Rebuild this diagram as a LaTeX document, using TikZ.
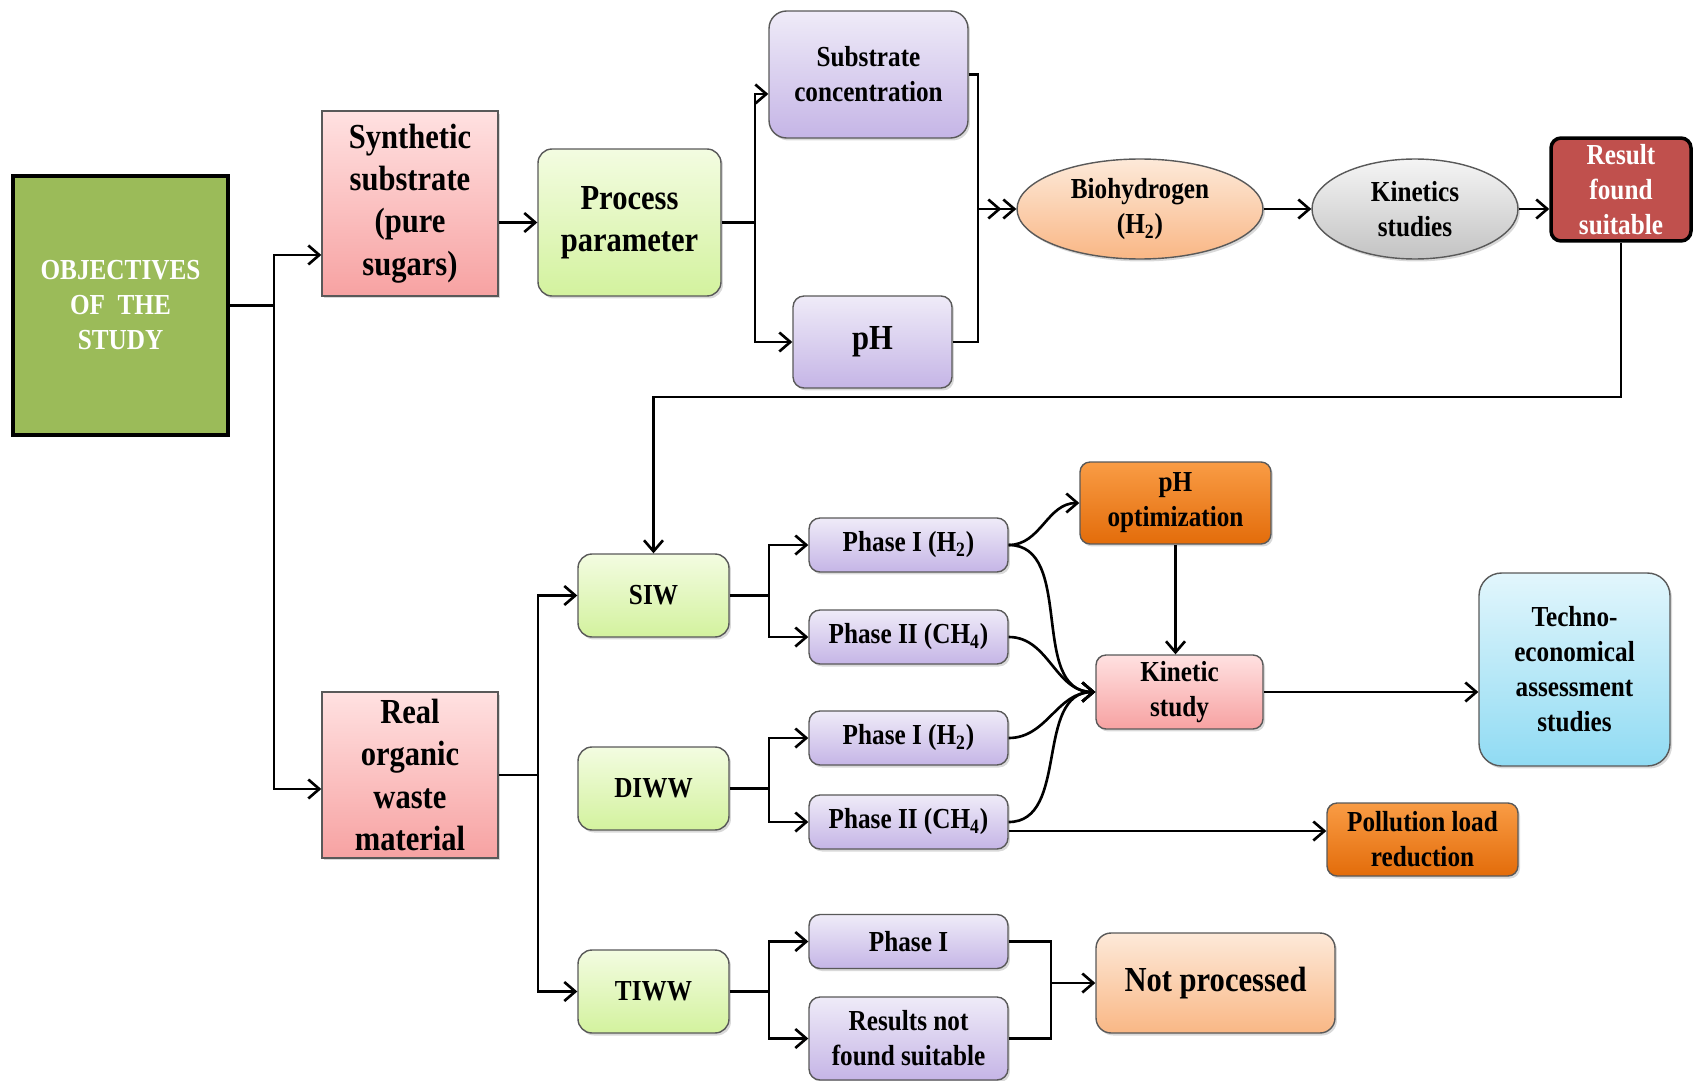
\documentclass[tikz,border=0pt]{standalone}
\usepackage{fontspec}
\setmainfont{Liberation Serif}[FakeStretch=0.87]
\usetikzlibrary{arrows.meta,shapes.geometric,shadows}

\definecolor{verdeobj}{HTML}{9BBB59}
\definecolor{rosaA}{HTML}{FFE1E1}
\definecolor{rosaB}{HTML}{F7A2A2}
\definecolor{verdeA}{HTML}{F3FCE1}
\definecolor{verdeB}{HTML}{D3F29E}
\definecolor{lilaA}{HTML}{EFEBF8}
\definecolor{lilaB}{HTML}{C5B5E6}
\definecolor{duraznoA}{HTML}{FDE9D9}
\definecolor{duraznoB}{HTML}{F9B785}
\definecolor{grisA}{HTML}{F5F5F5}
\definecolor{grisB}{HTML}{C3C3C3}
\definecolor{rojo}{HTML}{C0504D}
\definecolor{naranjaA}{HTML}{F99C45}
\definecolor{naranjaB}{HTML}{E36C0A}
\definecolor{celesteA}{HTML}{E2F6FC}
\definecolor{celesteB}{HTML}{90DBF3}

\newcommand{\chico}{\bfseries\fontsize{16.5}{19.9}\selectfont}
\newcommand{\grande}{\bfseries\fontsize{20}{24}\selectfont}

\tikzset{
  caja/.style={draw=black!65, line width=0.8pt, align=center, font=\chico, inner sep=1pt,
    drop shadow={opacity=0.3, shadow xshift=0.04cm, shadow yshift=-0.05cm}},
  grande/.style={font=\grande},
  rosa/.style={caja, top color=rosaA, bottom color=rosaB},
  verde/.style={caja, rounded corners=0.28cm, top color=verdeA, bottom color=verdeB},
  lila/.style={caja, rounded corners=0.22cm, top color=lilaA, bottom color=lilaB},
  durazno/.style={caja, top color=duraznoA, bottom color=duraznoB},
  naranja/.style={caja, rounded corners=0.2cm, top color=naranjaA, bottom color=naranjaB},
}

\begin{document}
\begin{tikzpicture}[x=0.02cm, y=-0.02cm, line width=1.5pt, >={Straight Barb[length=0.22cm,width=0.38cm]}]
  \useasboundingbox (0,0) rectangle (1693,1081);

  % cajas de arriba
  \node[draw=black, line width=2.4pt, fill=verdeobj, text=white, align=center, font=\chico,
    minimum width=4.3cm, minimum height=5.18cm] (obj) at (120.5,305.5) {OBJECTIVES\\OF\ \ THE\\STUDY};
  \node[rosa, grande, minimum width=3.52cm, minimum height=3.7cm] (sint) at (410,203.5) {Synthetic\\substrate\\(pure\\sugars)};
  \node[verde, grande, minimum width=3.66cm, minimum height=2.94cm] (proc) at (629.5,222.5) {Process\\parameter};
  \node[lila, rounded corners=0.35cm, minimum width=3.98cm, minimum height=2.54cm] (subs) at (868.5,74.5) {Substrate\\concentration};
  \node[lila, grande, minimum width=3.18cm, minimum height=1.84cm] (ph) at (872.5,342) {pH};
  \node[durazno, ellipse, minimum width=4.92cm, minimum height=2cm] (bio) at (1140,209) {Biohydrogen\\(H\textsubscript{2})};
  \node[caja, ellipse, top color=grisA, bottom color=grisB, minimum width=4.12cm, minimum height=2cm] (kin) at (1415,209) {Kinetics\\studies};
  \node[draw=black, line width=2pt, rounded corners=0.2cm, fill=rojo, text=white, align=center, font=\chico,
    inner sep=0pt, minimum width=2.8cm, minimum height=2.06cm] (res) at (1621,189.5) {Result\\found\\suitable};

  % cajas de abajo
  \node[rosa, grande, minimum width=3.52cm, minimum height=3.32cm] (real) at (410,775) {Real\\organic\\waste\\material};
  \node[verde, minimum width=3.02cm, minimum height=1.66cm] (siw) at (653.5,595.5) {SIW};
  \node[verde, minimum width=3.02cm, minimum height=1.66cm] (diww) at (653.5,788.5) {DIWW};
  \node[verde, minimum width=3.02cm, minimum height=1.66cm] (tiww) at (653.5,991.5) {TIWW};
  \node[lila, minimum width=3.98cm, minimum height=1.08cm] (p1a) at (908.5,545) {Phase I (H\textsubscript{2})};
  \node[lila, minimum width=3.98cm, minimum height=1.08cm] (p2a) at (908.5,637) {Phase II (CH\textsubscript{4})};
  \node[lila, minimum width=3.98cm, minimum height=1.08cm] (p1b) at (908.5,738) {Phase I (H\textsubscript{2})};
  \node[lila, minimum width=3.98cm, minimum height=1.08cm] (p2b) at (908.5,822) {Phase II (CH\textsubscript{4})};
  \node[lila, minimum width=3.98cm, minimum height=1.08cm] (p1c) at (908.5,941.5) {Phase I};
  \node[lila, minimum width=3.98cm, minimum height=1.66cm] (rnf) at (908.5,1038.5) {Results not\\found suitable};
  \node[naranja, minimum width=3.82cm, minimum height=1.64cm] (phopt) at (1175.5,503) {pH\\optimization};
  \node[rosa, rounded corners=0.2cm, minimum width=3.34cm, minimum height=1.48cm] (kstudy) at (1179.5,692) {Kinetic\\study};
  \node[caja, rounded corners=0.45cm, top color=celesteA, bottom color=celesteB,
    minimum width=3.82cm, minimum height=3.86cm] (techno) at (1574.5,669.5) {Techno-\\economical\\assessment\\studies};
  \node[naranja, minimum width=3.82cm, minimum height=1.46cm] (poll) at (1422.5,839.5) {Pollution load\\reduction};
  \node[durazno, grande, rounded corners=0.3cm, minimum width=4.78cm, minimum height=2cm] (noproc) at (1215.5,983) {Not processed};

  % puntos de bifurcacion
  \coordinate (ob) at (274,305.5);
  \coordinate (pb) at (755,222.5);
  \coordinate (bb) at (978,209);
  \coordinate (fb) at (653.5,397);
  \coordinate (rb) at (538,775);
  \coordinate (sb) at (769,595.5);
  \coordinate (db) at (769,788.5);
  \coordinate (tb) at (769,991.5);
  \coordinate (nb) at (1051,983);

  % flechas de arriba
  \draw (obj.east) -- (ob);
  \draw[->] (ob) |- ([yshift=-1.03cm]sint.west);
  \draw[->] (ob) |- ([yshift=-0.28cm]real.west);
  \draw[->] (sint.east |- proc.west) -- (proc.west);
  \draw (proc.east) -- (pb);
  \draw[->] (pb) |- ([yshift=-0.39cm]subs.west);
  \draw[->] (pb) |- (ph.west);
  \draw[->, shorten >=0.3cm] (subs.east) -| (bb) -- (bio.west);
  \draw[->] (ph.east) -| (bb) -- (bio.west);
  \draw[->] (bio) -- (kin);
  \draw[->] (kin.east) -- (kin.east -| res.west);
  \draw[->] (res.south) |- (fb) -- (siw.north); % retorno

  % flechas de abajo
  \draw (real.east) -- (rb);
  \draw[->] (rb) |- (siw.west);
  \draw[->] (rb) |- (tiww.west);
  \draw (siw.east) -- (sb);
  \draw[->] (sb) |- (p1a.west);
  \draw[->] (sb) |- (p2a.west);
  \draw (diww.east) -- (db);
  \draw[->] (db) |- (p1b.west);
  \draw[->] (db) |- (p2b.west);
  \draw (tiww.east) -- (tb);
  \draw[->] (tb) |- (p1c.west);
  \draw[->] (tb) |- (rnf.west);

  % curvas hacia kinetic study
  \draw[->] (p1a.east) to[out=0, in=180] (phopt.west);
  \draw[->] (p1a.east) to[out=0, in=180] (kstudy.west);
  \draw[->] (p2a.east) to[out=0, in=180] (kstudy.west);
  \draw[->] (p1b.east) to[out=0, in=180] (kstudy.west);
  \draw[->] (p2b.east) to[out=0, in=180] (kstudy.west);
  \draw[->] (phopt.south) -- (phopt.south |- kstudy.north);
  \draw[->] (kstudy.east) -- (kstudy.east -| techno.west);
  \draw[->] ([yshift=-0.18cm]p2b.east) -- ([yshift=-0.18cm]p2b.east -| poll.west);

  % not processed
  \draw (p1c.east) -| (nb);
  \draw (rnf.east) -| (nb);
  \draw[->] (nb) -- (noproc.west);
\end{tikzpicture}
\end{document}
